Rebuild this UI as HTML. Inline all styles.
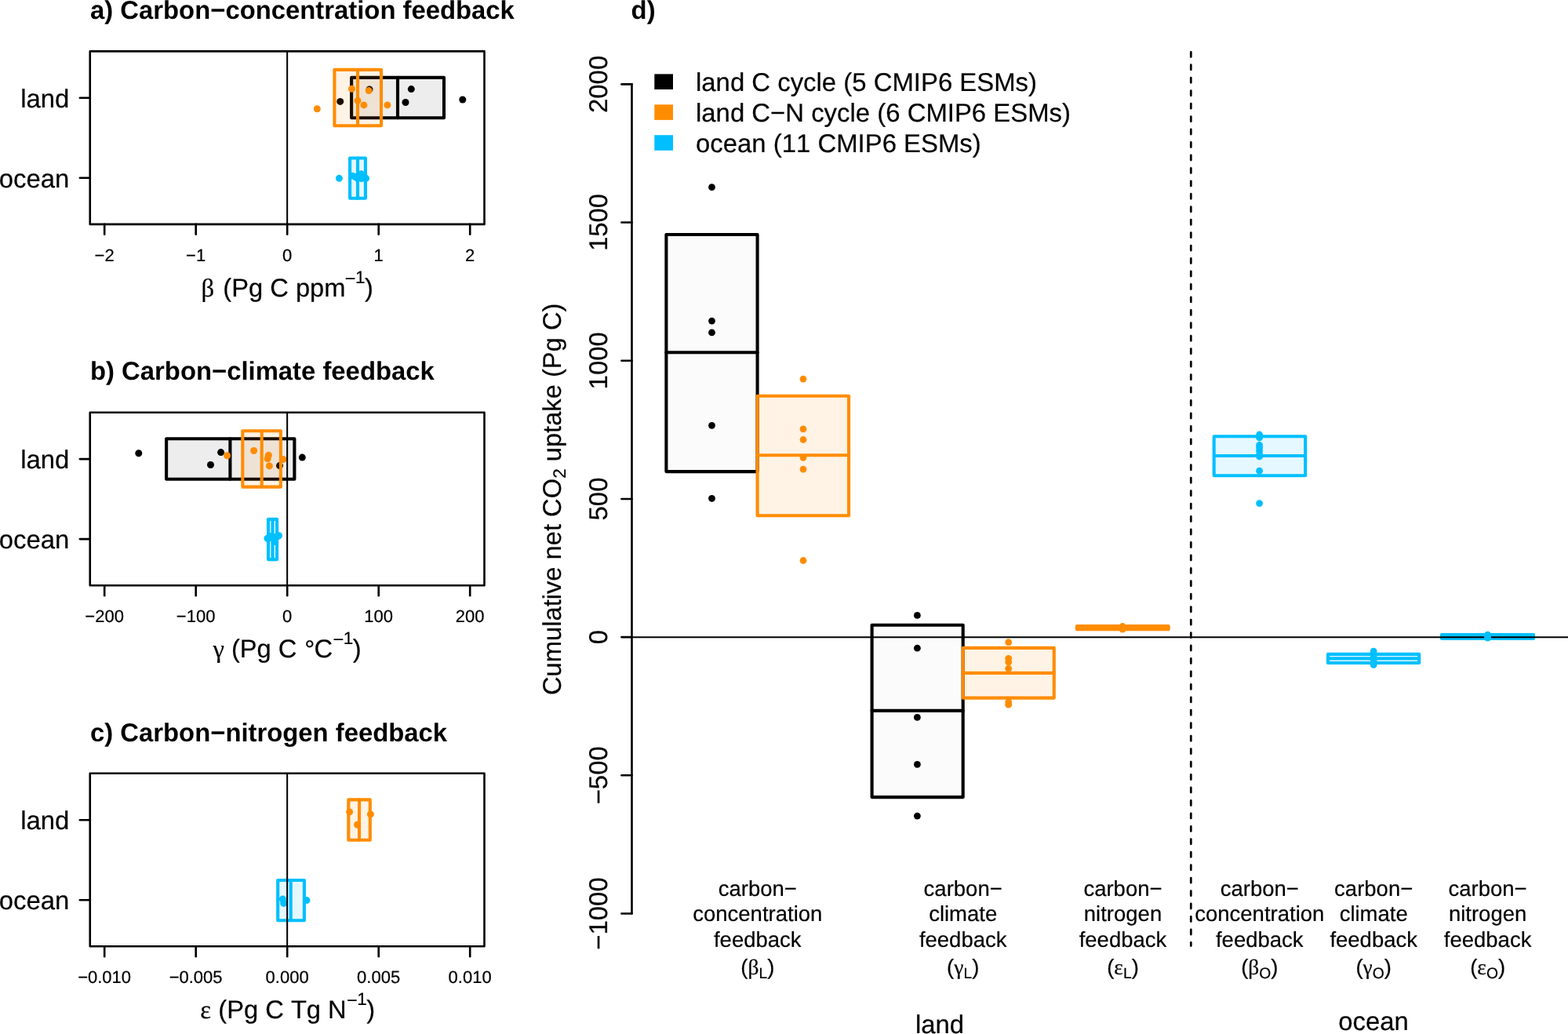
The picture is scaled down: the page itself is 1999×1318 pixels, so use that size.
<!DOCTYPE html>
<html lang="en"><head><meta charset="utf-8"><title>Carbon cycle feedbacks</title>
<style>
html,body{margin:0;padding:0;background:#fff;}
body{width:1999px;height:1318px;overflow:hidden;}
svg{display:block;}
text{font-family:"Liberation Sans",sans-serif;fill:#000;font-kerning:none;text-rendering:geometricPrecision;stroke:#000;stroke-width:0.2px;}
.ttl{font-size:32.85px;font-weight:bold;stroke:none;}
.lab{font-size:32.9px;}
.ylab{font-size:32.7px;}
.tk{font-size:22px;}
.cat{font-size:27.5px;}
.sym{font-family:"Liberation Serif",serif;}
.sup{font-size:22.5px;}
.supm{font-size:23.5px;}
.xl{font-size:32.7px;}
.tkl{stroke:#000;stroke-width:2.6;stroke-linecap:round;}
.sub{font-size:22.5px;}
.csub{font-size:19.3px;}
.deg{font-size:33px;}
</style></head>
<body>
<svg width="1999" height="1318" viewBox="0 0 1999 1318">
<rect width="1999" height="1318" fill="#fff"/>
<text x="115" y="24.2" class="ttl">a) Carbon−concentration feedback</text>
<rect x="448.1" y="98.9" width="117.9" height="51.4" fill="rgba(0,0,0,0.07)" stroke="#000" stroke-width="4.1" stroke-linejoin="round"/>
<line x1="507.0" y1="98.9" x2="507.0" y2="150.3" stroke="#000" stroke-width="4.1" stroke-linecap="round"/>
<circle cx="433.7" cy="129.4" r="4.5" fill="#000"/>
<circle cx="471.0" cy="114.0" r="4.5" fill="#000"/>
<circle cx="524.3" cy="113.6" r="4.5" fill="#000"/>
<circle cx="517.0" cy="130.5" r="4.5" fill="#000"/>
<circle cx="589.8" cy="127.0" r="4.5" fill="#000"/>
<rect x="426.4" y="88.9" width="59.6" height="71.3" fill="rgba(255,140,0,0.10)" stroke="#ff8c00" stroke-width="4.1" stroke-linejoin="round"/>
<line x1="456.0" y1="88.9" x2="456.0" y2="160.2" stroke="#ff8c00" stroke-width="4.1" stroke-linecap="round"/>
<circle cx="404.3" cy="138.8" r="4.5" fill="#ff8c00"/>
<circle cx="448.5" cy="113.2" r="4.5" fill="#ff8c00"/>
<circle cx="470.2" cy="115.6" r="4.5" fill="#ff8c00"/>
<circle cx="456.0" cy="128.4" r="4.5" fill="#ff8c00"/>
<circle cx="463.9" cy="133.9" r="4.5" fill="#ff8c00"/>
<circle cx="493.9" cy="133.9" r="4.5" fill="#ff8c00"/>
<rect x="446.1" y="201.5" width="19.8" height="51.2" fill="rgba(0,191,255,0.10)" stroke="#00bfff" stroke-width="4.1" stroke-linejoin="round"/>
<line x1="456.0" y1="201.5" x2="456.0" y2="252.8" stroke="#00bfff" stroke-width="4.1" stroke-linecap="round"/>
<circle cx="432.4" cy="227.3" r="4.45" fill="#00bfff"/>
<circle cx="449.6" cy="224.1" r="4.45" fill="#00bfff"/>
<circle cx="453.0" cy="225.5" r="4.45" fill="#00bfff"/>
<circle cx="456.0" cy="227.5" r="4.45" fill="#00bfff"/>
<circle cx="458.0" cy="224.5" r="4.45" fill="#00bfff"/>
<circle cx="460.5" cy="221.8" r="4.45" fill="#00bfff"/>
<circle cx="461.0" cy="227.6" r="4.45" fill="#00bfff"/>
<circle cx="463.0" cy="224.5" r="4.45" fill="#00bfff"/>
<circle cx="464.5" cy="226.0" r="4.45" fill="#00bfff"/>
<circle cx="466.6" cy="227.3" r="4.45" fill="#00bfff"/>
<line x1="366.15" y1="65.35" x2="366.15" y2="285.9" stroke="#000" stroke-width="2.06"/>
<rect x="114.75" y="65.35" width="502.75" height="220.55" fill="none" stroke="#000" stroke-width="2.6" stroke-linejoin="round"/>
<line x1="133.2" y1="285.90" x2="133.2" y2="298.80" class="tkl"/>
<text x="133.1" y="332.8" class="tk" text-anchor="middle">−2</text>
<line x1="249.7" y1="285.90" x2="249.7" y2="298.80" class="tkl"/>
<text x="249.6" y="332.8" class="tk" text-anchor="middle">−1</text>
<line x1="366.2" y1="285.90" x2="366.2" y2="298.80" class="tkl"/>
<text x="366.1" y="332.8" class="tk" text-anchor="middle">0</text>
<line x1="482.7" y1="285.90" x2="482.7" y2="298.80" class="tkl"/>
<text x="482.6" y="332.8" class="tk" text-anchor="middle">1</text>
<line x1="599.2" y1="285.90" x2="599.2" y2="298.80" class="tkl"/>
<text x="599.1" y="332.8" class="tk" text-anchor="middle">2</text>
<line x1="101.85" y1="124.8" x2="114.75" y2="124.8" class="tkl"/>
<text x="88.4" y="136.6" class="lab" text-anchor="end">land</text>
<line x1="101.85" y1="226.8" x2="114.75" y2="226.8" class="tkl"/>
<text x="88.4" y="238.6" class="lab" text-anchor="end">ocean</text>
<text x="256.6" y="377.8" class="xl sym">β</text><text x="284.25" y="377.8" class="xl">(Pg C ppm</text><text x="439.85" y="363.0" class="supm">−</text><text x="453.04" y="360.9" class="sup">1</text><text x="465.05" y="377.8" class="xl">)</text>
<text x="115" y="483.9" class="ttl">b) Carbon−climate feedback</text>
<rect x="212.1" y="559.3" width="163.3" height="51.4" fill="rgba(0,0,0,0.07)" stroke="#000" stroke-width="4.1" stroke-linejoin="round"/>
<line x1="293.4" y1="559.3" x2="293.4" y2="610.7" stroke="#000" stroke-width="4.1" stroke-linecap="round"/>
<circle cx="176.8" cy="577.8" r="4.5" fill="#000"/>
<circle cx="281.6" cy="576.6" r="4.5" fill="#000"/>
<circle cx="268.5" cy="592.5" r="4.5" fill="#000"/>
<circle cx="356.5" cy="593.6" r="4.5" fill="#000"/>
<circle cx="385.3" cy="583.1" r="4.5" fill="#000"/>
<rect x="309.3" y="549.3" width="48.6" height="71.3" fill="rgba(255,140,0,0.10)" stroke="#ff8c00" stroke-width="4.1" stroke-linejoin="round"/>
<line x1="333.7" y1="549.3" x2="333.7" y2="620.6" stroke="#ff8c00" stroke-width="4.1" stroke-linecap="round"/>
<circle cx="289.6" cy="580.7" r="4.5" fill="#ff8c00"/>
<circle cx="323.6" cy="574.5" r="4.5" fill="#ff8c00"/>
<circle cx="342.4" cy="580.2" r="4.5" fill="#ff8c00"/>
<circle cx="341.2" cy="584.7" r="4.5" fill="#ff8c00"/>
<circle cx="343.4" cy="593.9" r="4.5" fill="#ff8c00"/>
<circle cx="361.1" cy="585.6" r="4.5" fill="#ff8c00"/>
<rect x="342.0" y="661.9" width="11.1" height="51.2" fill="rgba(0,191,255,0.10)" stroke="#00bfff" stroke-width="4.1" stroke-linejoin="round"/>
<line x1="347.5" y1="661.9" x2="347.5" y2="713.1" stroke="#00bfff" stroke-width="4.1" stroke-linecap="round"/>
<circle cx="340.9" cy="686.2" r="4.5" fill="#00bfff"/>
<circle cx="343.5" cy="685.8" r="4.5" fill="#00bfff"/>
<circle cx="346.0" cy="685.2" r="4.5" fill="#00bfff"/>
<circle cx="348.5" cy="684.6" r="4.5" fill="#00bfff"/>
<circle cx="350.5" cy="685.2" r="4.5" fill="#00bfff"/>
<circle cx="352.5" cy="684.4" r="4.5" fill="#00bfff"/>
<circle cx="354.0" cy="683.6" r="4.5" fill="#00bfff"/>
<circle cx="355.5" cy="682.8" r="4.5" fill="#00bfff"/>
<circle cx="350.5" cy="690.6" r="4.5" fill="#00bfff"/>
<circle cx="344.5" cy="683.4" r="4.5" fill="#00bfff"/>
<line x1="366.15" y1="525.7" x2="366.15" y2="746.25" stroke="#000" stroke-width="2.06"/>
<rect x="114.75" y="525.70" width="502.75" height="220.55" fill="none" stroke="#000" stroke-width="2.6" stroke-linejoin="round"/>
<line x1="133.2" y1="746.25" x2="133.2" y2="759.15" class="tkl"/>
<text x="133.1" y="793.1" class="tk" text-anchor="middle">−200</text>
<line x1="249.7" y1="746.25" x2="249.7" y2="759.15" class="tkl"/>
<text x="249.6" y="793.1" class="tk" text-anchor="middle">−100</text>
<line x1="366.2" y1="746.25" x2="366.2" y2="759.15" class="tkl"/>
<text x="366.1" y="793.1" class="tk" text-anchor="middle">0</text>
<line x1="482.7" y1="746.25" x2="482.7" y2="759.15" class="tkl"/>
<text x="482.6" y="793.1" class="tk" text-anchor="middle">100</text>
<line x1="599.2" y1="746.25" x2="599.2" y2="759.15" class="tkl"/>
<text x="599.1" y="793.1" class="tk" text-anchor="middle">200</text>
<line x1="101.85" y1="585.1" x2="114.75" y2="585.1" class="tkl"/>
<text x="88.4" y="596.9" class="lab" text-anchor="end">land</text>
<line x1="101.85" y1="687.1" x2="114.75" y2="687.1" class="tkl"/>
<text x="88.4" y="698.9" class="lab" text-anchor="end">ocean</text>
<text x="271.5" y="838.1" class="xl sym">γ</text><text x="294.9" y="838.1" class="xl">(Pg C <tspan dx="0.7" dy="1">°</tspan><tspan dx="-0.7" dy="-1">C</tspan></text><text x="424.45" y="823.4" class="supm">−</text><text x="437.64" y="821.3" class="sup">1</text><text x="449.65" y="838.1" class="xl">)</text>
<text x="115" y="944.9" class="ttl">c) Carbon−nitrogen feedback</text>
<rect x="444.3" y="1019.4" width="27.5" height="51.4" fill="rgba(255,140,0,0.10)" stroke="#ff8c00" stroke-width="4.1" stroke-linejoin="round"/>
<line x1="458.0" y1="1019.4" x2="458.0" y2="1070.8" stroke="#ff8c00" stroke-width="4.1" stroke-linecap="round"/>
<circle cx="445.6" cy="1034.9" r="4.5" fill="#ff8c00"/>
<circle cx="472.4" cy="1037.9" r="4.5" fill="#ff8c00"/>
<circle cx="455.5" cy="1051.2" r="4.5" fill="#ff8c00"/>
<rect x="354.2" y="1122.0" width="33.7" height="51.2" fill="rgba(0,191,255,0.10)" stroke="#00bfff" stroke-width="4.1" stroke-linejoin="round"/>
<line x1="370.7" y1="1122.0" x2="370.7" y2="1173.2" stroke="#00bfff" stroke-width="4.1" stroke-linecap="round"/>
<circle cx="360.4" cy="1146.1" r="4.5" fill="#00bfff"/>
<circle cx="361.7" cy="1151.4" r="4.5" fill="#00bfff"/>
<circle cx="391.0" cy="1147.6" r="4.5" fill="#00bfff"/>
<line x1="366.15" y1="985.75" x2="366.15" y2="1206.3" stroke="#000" stroke-width="2.06"/>
<rect x="114.75" y="985.75" width="502.75" height="220.55" fill="none" stroke="#000" stroke-width="2.6" stroke-linejoin="round"/>
<line x1="133.2" y1="1206.30" x2="133.2" y2="1219.20" class="tkl"/>
<text x="133.1" y="1253.2" class="tk" text-anchor="middle">−0.010</text>
<line x1="249.7" y1="1206.30" x2="249.7" y2="1219.20" class="tkl"/>
<text x="249.6" y="1253.2" class="tk" text-anchor="middle">−0.005</text>
<line x1="366.2" y1="1206.30" x2="366.2" y2="1219.20" class="tkl"/>
<text x="366.1" y="1253.2" class="tk" text-anchor="middle">0.000</text>
<line x1="482.7" y1="1206.30" x2="482.7" y2="1219.20" class="tkl"/>
<text x="482.6" y="1253.2" class="tk" text-anchor="middle">0.005</text>
<line x1="599.2" y1="1206.30" x2="599.2" y2="1219.20" class="tkl"/>
<text x="599.1" y="1253.2" class="tk" text-anchor="middle">0.010</text>
<line x1="101.85" y1="1045.2" x2="114.75" y2="1045.2" class="tkl"/>
<text x="88.4" y="1057.0" class="lab" text-anchor="end">land</text>
<line x1="101.85" y1="1147.2" x2="114.75" y2="1147.2" class="tkl"/>
<text x="88.4" y="1159.0" class="lab" text-anchor="end">ocean</text>
<text x="255.2" y="1298.2" class="xl sym">ε</text><text x="278.25" y="1298.2" class="xl">(Pg C Tg N</text><text x="441.95" y="1283.4" class="supm">−</text><text x="455.14" y="1281.4" class="sup">1</text><text x="467.15" y="1298.2" class="xl">)</text>
<text x="804.6" y="24.1" class="ttl">d)</text>
<rect x="849.4" y="299.0" width="116.2" height="302.1" fill="rgba(0,0,0,0.015)" stroke="#000" stroke-width="4.1" stroke-linejoin="round"/>
<line x1="849.4" y1="449.3" x2="965.6" y2="449.3" stroke="#000" stroke-width="4.1" stroke-linecap="round"/>
<rect x="965.6" y="504.7" width="116.5" height="152.6" fill="rgba(255,140,0,0.10)" stroke="#ff8c00" stroke-width="4.1" stroke-linejoin="round"/>
<line x1="965.6" y1="580.3" x2="1082.1" y2="580.3" stroke="#ff8c00" stroke-width="4.1" stroke-linecap="round"/>
<rect x="1111.6" y="796.8" width="116.1" height="219.3" fill="rgba(0,0,0,0.015)" stroke="#000" stroke-width="4.1" stroke-linejoin="round"/>
<line x1="1111.6" y1="905.9" x2="1227.7" y2="905.9" stroke="#000" stroke-width="4.1" stroke-linecap="round"/>
<rect x="1227.7" y="825.9" width="116.1" height="63.7" fill="rgba(255,140,0,0.10)" stroke="#ff8c00" stroke-width="4.1" stroke-linejoin="round"/>
<line x1="1227.7" y1="857.9" x2="1343.8" y2="857.9" stroke="#ff8c00" stroke-width="4.1" stroke-linecap="round"/>
<rect x="1372.9" y="798.1" width="116.7" height="4.1" fill="rgba(255,140,0,0.10)" stroke="#ff8c00" stroke-width="4.1" stroke-linejoin="round"/>
<line x1="1372.9" y1="800.1" x2="1489.6" y2="800.1" stroke="#ff8c00" stroke-width="4.1" stroke-linecap="round"/>
<rect x="1547.7" y="556.2" width="116.5" height="50.0" fill="rgba(0,191,255,0.10)" stroke="#00bfff" stroke-width="4.1" stroke-linejoin="round"/>
<line x1="1547.7" y1="581.0" x2="1664.2" y2="581.0" stroke="#00bfff" stroke-width="4.1" stroke-linecap="round"/>
<rect x="1693.0" y="833.9" width="116.2" height="11.1" fill="rgba(0,191,255,0.10)" stroke="#00bfff" stroke-width="4.1" stroke-linejoin="round"/>
<line x1="1693.0" y1="839.4" x2="1809.2" y2="839.4" stroke="#00bfff" stroke-width="4.1" stroke-linecap="round"/>
<rect x="1838.0" y="809.1" width="117.0" height="4.9" fill="rgba(0,191,255,0.10)" stroke="#00bfff" stroke-width="4.1" stroke-linejoin="round"/>
<line x1="1838.0" y1="811.5" x2="1955.0" y2="811.5" stroke="#00bfff" stroke-width="4.1" stroke-linecap="round"/>
<line x1="805.5" y1="812.2" x2="1999" y2="812.2" stroke="#000" stroke-width="2.15"/>
<line x1="1518.3" y1="66.25" x2="1518.3" y2="1205.5" stroke="#000" stroke-width="2.75" stroke-linecap="round" stroke-dasharray="6.17 10.28"/>
<circle cx="907.5" cy="238.7" r="4.4" fill="#000"/>
<circle cx="907.5" cy="409.1" r="4.4" fill="#000"/>
<circle cx="907.5" cy="423.9" r="4.4" fill="#000"/>
<circle cx="907.5" cy="542.3" r="4.4" fill="#000"/>
<circle cx="907.5" cy="635.3" r="4.4" fill="#000"/>
<circle cx="1024.0" cy="483.1" r="4.4" fill="#ff8c00"/>
<circle cx="1024.0" cy="546.9" r="4.4" fill="#ff8c00"/>
<circle cx="1024.0" cy="560.5" r="4.4" fill="#ff8c00"/>
<circle cx="1024.0" cy="583.3" r="4.4" fill="#ff8c00"/>
<circle cx="1024.0" cy="598.1" r="4.4" fill="#ff8c00"/>
<circle cx="1024.0" cy="714.5" r="4.4" fill="#ff8c00"/>
<circle cx="1169.4" cy="784.4" r="4.4" fill="#000"/>
<circle cx="1169.4" cy="826.2" r="4.4" fill="#000"/>
<circle cx="1169.4" cy="914.4" r="4.4" fill="#000"/>
<circle cx="1169.4" cy="974.3" r="4.4" fill="#000"/>
<circle cx="1169.4" cy="1040.1" r="4.4" fill="#000"/>
<circle cx="1285.7" cy="818.7" r="4.4" fill="#ff8c00"/>
<circle cx="1285.7" cy="839.3" r="4.4" fill="#ff8c00"/>
<circle cx="1285.7" cy="844.0" r="4.4" fill="#ff8c00"/>
<circle cx="1285.7" cy="852.2" r="4.4" fill="#ff8c00"/>
<circle cx="1285.7" cy="894.8" r="4.4" fill="#ff8c00"/>
<circle cx="1285.7" cy="898.2" r="4.4" fill="#ff8c00"/>
<circle cx="1431.1" cy="798.5" r="4.4" fill="#ff8c00"/>
<circle cx="1431.1" cy="800.3" r="4.4" fill="#ff8c00"/>
<circle cx="1431.1" cy="802.2" r="4.4" fill="#ff8c00"/>
<circle cx="1605.6" cy="554.0" r="4.4" fill="#00bfff"/>
<circle cx="1605.6" cy="558.0" r="4.4" fill="#00bfff"/>
<circle cx="1605.6" cy="567.4" r="4.4" fill="#00bfff"/>
<circle cx="1605.6" cy="570.5" r="4.4" fill="#00bfff"/>
<circle cx="1605.6" cy="574.4" r="4.4" fill="#00bfff"/>
<circle cx="1605.6" cy="579.0" r="4.4" fill="#00bfff"/>
<circle cx="1605.6" cy="582.0" r="4.4" fill="#00bfff"/>
<circle cx="1605.6" cy="600.2" r="4.4" fill="#00bfff"/>
<circle cx="1605.6" cy="641.7" r="4.4" fill="#00bfff"/>
<circle cx="1751.2" cy="830.1" r="4.4" fill="#00bfff"/>
<circle cx="1751.2" cy="833.0" r="4.4" fill="#00bfff"/>
<circle cx="1751.2" cy="836.0" r="4.4" fill="#00bfff"/>
<circle cx="1751.2" cy="839.0" r="4.4" fill="#00bfff"/>
<circle cx="1751.2" cy="842.0" r="4.4" fill="#00bfff"/>
<circle cx="1751.2" cy="845.0" r="4.4" fill="#00bfff"/>
<circle cx="1751.2" cy="847.5" r="4.4" fill="#00bfff"/>
<circle cx="1896.6" cy="809.2" r="4.4" fill="#00bfff"/>
<circle cx="1896.6" cy="811.1" r="4.4" fill="#00bfff"/>
<circle cx="1896.6" cy="813.1" r="4.4" fill="#00bfff"/>
<line x1="805.5" y1="107.4" x2="805.5" y2="1164.5" class="tkl"/>
<line x1="792.40" y1="107.4" x2="805.5" y2="107.4" class="tkl"/>
<text transform="translate(774.2,107.4) rotate(-90)" class="lab" text-anchor="middle">2000</text>
<line x1="792.40" y1="283.5" x2="805.5" y2="283.5" class="tkl"/>
<text transform="translate(774.2,283.5) rotate(-90)" class="lab" text-anchor="middle">1500</text>
<line x1="792.40" y1="459.8" x2="805.5" y2="459.8" class="tkl"/>
<text transform="translate(774.2,459.8) rotate(-90)" class="lab" text-anchor="middle">1000</text>
<line x1="792.40" y1="636.0" x2="805.5" y2="636.0" class="tkl"/>
<text transform="translate(774.2,636.0) rotate(-90)" class="lab" text-anchor="middle">500</text>
<line x1="792.40" y1="812.1" x2="805.5" y2="812.1" class="tkl"/>
<text transform="translate(774.2,812.1) rotate(-90)" class="lab" text-anchor="middle">0</text>
<line x1="792.40" y1="988.3" x2="805.5" y2="988.3" class="tkl"/>
<text transform="translate(774.2,988.3) rotate(-90)" class="lab" text-anchor="middle">−500</text>
<line x1="792.40" y1="1164.5" x2="805.5" y2="1164.5" class="tkl"/>
<text transform="translate(774.2,1164.5) rotate(-90)" class="lab" text-anchor="middle">−1000</text>
<text transform="translate(715.2,636.3) rotate(-90)" class="ylab" text-anchor="middle">Cumulative net CO<tspan class="sub" dy="6.1">2</tspan><tspan dy="-6.1"> uptake (Pg C)</tspan></text>
<rect x="834.3" y="94.4" width="23.7" height="19.6" fill="#000"/>
<text x="887" y="116.0" class="lab">land C cycle (5 CMIP6 ESMs)</text>
<rect x="834.3" y="133.3" width="23.7" height="19.6" fill="#ff8c00"/>
<text x="887" y="154.9" class="lab">land C−N cycle (6 CMIP6 ESMs)</text>
<rect x="834.3" y="172.2" width="23.7" height="19.6" fill="#00bfff"/>
<text x="887" y="193.8" class="lab">ocean (11 CMIP6 ESMs)</text>
<text x="965.8" y="1141.6" class="cat" text-anchor="middle">carbon−</text>
<text x="965.8" y="1174.3" class="cat" text-anchor="middle">concentration</text>
<text x="965.8" y="1207.0" class="cat" text-anchor="middle">feedback</text>
<text x="965.8" y="1242" class="cat" text-anchor="middle">(<tspan class="sym">β</tspan><tspan class="csub" dy="5">L</tspan><tspan dy="-5">)</tspan></text>
<text x="1227.7" y="1141.6" class="cat" text-anchor="middle">carbon−</text>
<text x="1227.7" y="1174.3" class="cat" text-anchor="middle">climate</text>
<text x="1227.7" y="1207.0" class="cat" text-anchor="middle">feedback</text>
<text x="1227.7" y="1242" class="cat" text-anchor="middle">(<tspan class="sym">γ</tspan><tspan class="csub" dy="5">L</tspan><tspan dy="-5">)</tspan></text>
<text x="1431.5" y="1141.6" class="cat" text-anchor="middle">carbon−</text>
<text x="1431.5" y="1174.3" class="cat" text-anchor="middle">nitrogen</text>
<text x="1431.5" y="1207.0" class="cat" text-anchor="middle">feedback</text>
<text x="1431.5" y="1242" class="cat" text-anchor="middle">(<tspan class="sym">ε</tspan><tspan class="csub" dy="5">L</tspan><tspan dy="-5">)</tspan></text>
<text x="1605.8" y="1141.6" class="cat" text-anchor="middle">carbon−</text>
<text x="1605.8" y="1174.3" class="cat" text-anchor="middle">concentration</text>
<text x="1605.8" y="1207.0" class="cat" text-anchor="middle">feedback</text>
<text x="1605.8" y="1242" class="cat" text-anchor="middle">(<tspan class="sym">β</tspan><tspan class="csub" dy="5">O</tspan><tspan dy="-5">)</tspan></text>
<text x="1751.2" y="1141.6" class="cat" text-anchor="middle">carbon−</text>
<text x="1751.2" y="1174.3" class="cat" text-anchor="middle">climate</text>
<text x="1751.2" y="1207.0" class="cat" text-anchor="middle">feedback</text>
<text x="1751.2" y="1242" class="cat" text-anchor="middle">(<tspan class="sym">γ</tspan><tspan class="csub" dy="5">O</tspan><tspan dy="-5">)</tspan></text>
<text x="1896.6" y="1141.6" class="cat" text-anchor="middle">carbon−</text>
<text x="1896.6" y="1174.3" class="cat" text-anchor="middle">nitrogen</text>
<text x="1896.6" y="1207.0" class="cat" text-anchor="middle">feedback</text>
<text x="1896.6" y="1242" class="cat" text-anchor="middle">(<tspan class="sym">ε</tspan><tspan class="csub" dy="5">O</tspan><tspan dy="-5">)</tspan></text>
<text x="1198" y="1316.6" class="lab" text-anchor="middle">land</text>
<text x="1751" y="1313.4" class="lab" text-anchor="middle">ocean</text>
</svg>
</body></html>
